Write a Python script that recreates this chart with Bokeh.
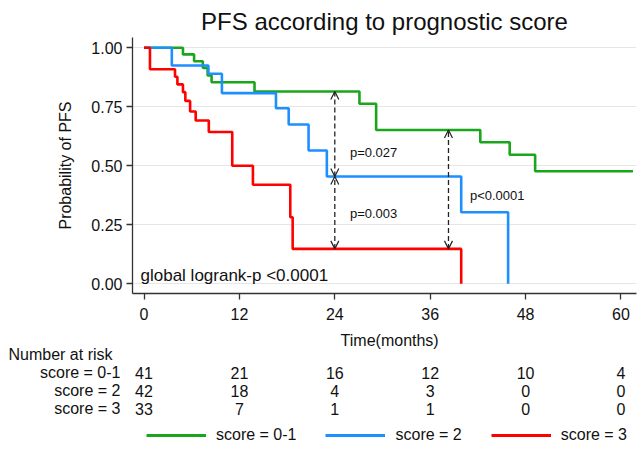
from bokeh.plotting import figure
from bokeh.layouts import column
from bokeh.models import (Range1d, FixedTicker, PrintfTickFormatter, Label, Legend,
                          LegendItem, Arrow, OpenHead)
from bokeh.core.properties import value
from bokeh.embed import file_html
from bokeh.resources import INLINE

FONT = "Liberation Sans"
INK = "#111111"

title_text = "PFS according to prognostic score"
x_label = "Time(months)"
y_label = "Probability of PFS"
groups = ["score = 0-1", "score = 2", "score = 3"]
colors = ["#1aa61a", "#1e8fff", "#ff0000"]

# Kaplan-Meier step curves (time in months, survival probability)
green_t = [0, 4.9, 6.3, 7.4, 8.0, 8.5, 13.9, 27.1, 29.2, 42.3, 46.0, 49.2, 61.5]
green_s = [1.0, 0.972, 0.943, 0.915, 0.883, 0.854, 0.815, 0.763, 0.652, 0.600, 0.547, 0.477, 0.477]
blue_t = [0, 3.5, 8.1, 9.8, 16.6, 18.2, 20.7, 23.0, 39.9, 45.8]
blue_s = [1.0, 0.925, 0.890, 0.808, 0.744, 0.675, 0.565, 0.455, 0.303, 0.0]
red_t = [0, 0.75, 3.9, 4.2, 4.9, 5.2, 5.8, 6.5, 8.15, 11.1, 13.7, 18.4, 18.7, 39.9]
red_s = [1.0, 0.909, 0.877, 0.845, 0.812, 0.775, 0.730, 0.692, 0.643, 0.500, 0.420, 0.282, 0.148, 0.0]

x_ticks = [0, 12, 24, 36, 48, 60]
y_ticks = [0.0, 0.25, 0.5, 0.75, 1.0]

risk_title = "Number at risk"
risk_0_1 = [41, 21, 16, 12, 10, 4]
risk_2 = [42, 18, 4, 3, 0, 0]
risk_3 = [33, 7, 1, 1, 0, 0]

# pairwise comparisons (arrow at a time point, between two curves)
cmp_x = [24, 24, 38.3]
cmp_top = [0.815, 0.455, 0.652]
cmp_bot = [0.455, 0.148, 0.148]
cmp_text = ["p=0.027", "p=0.003", "p<0.0001"]
cmp_text_x = [25.9, 25.9, 41.0]
cmp_text_y = [0.556, 0.298, 0.374]
global_text = "global logrank-p <0.0001"

# ---------------- main plot ----------------
X0, XS = -1.447, 61.95
p = figure(width=639, height=330, x_range=Range1d(X0, XS),
           y_range=Range1d(-0.041, 1.0436), output_backend="svg",
           toolbar_location=None, min_border_left=132, min_border_right=3,
           min_border_top=37, min_border_bottom=37)
p.frame_align = False
p.outline_line_color = None
p.xgrid.visible = False
p.ygrid.grid_line_color = "#e6e6e6"
p.ygrid.grid_line_width = 1.2

p.title.text = title_text
p.title.align = "center"
p.title.text_font = FONT
p.title.text_font_size = "24px"
p.title.text_font_style = "normal"
p.title.text_color = INK
p.title.standoff = 6

p.xaxis.ticker = FixedTicker(ticks=x_ticks)
p.yaxis.ticker = FixedTicker(ticks=y_ticks)
p.yaxis.formatter = PrintfTickFormatter(format="%.2f")
p.yaxis.axis_label = y_label
for ax in (p.xaxis[0], p.yaxis[0]):
    ax.axis_line_color = "#333333"
    ax.axis_line_width = 1.3
    ax.major_tick_line_color = "#333333"
    ax.major_tick_line_width = 1.3
    ax.major_tick_out = 6
    ax.major_tick_in = 0
    ax.minor_tick_line_color = None
    ax.major_label_text_font = FONT
    ax.major_label_text_font_size = "16px"
    ax.major_label_text_color = INK
    ax.axis_label_text_font = FONT
    ax.axis_label_text_font_size = "16px"
    ax.axis_label_text_font_style = "normal"
    ax.axis_label_text_color = INK
p.xaxis.major_label_standoff = 8
p.yaxis.major_label_standoff = 4
p.yaxis.axis_label_standoff = 14

renderers = []
for t, s, c in zip([green_t, blue_t, red_t], [green_s, blue_s, red_s], colors):
    renderers.append(p.step(t, s, mode="after", line_color=c, line_width=2.6))

for x, top, bot in zip(cmp_x, cmp_top, cmp_bot):
    p.add_layout(Arrow(start=OpenHead(size=8, line_width=1.2, line_color="#222222"),
                       end=OpenHead(size=8, line_width=1.2, line_color="#222222"),
                       x_start=x, y_start=bot, x_end=x, y_end=top,
                       line_dash="5 3", line_width=1.3, line_color="#222222"))

for txt, tx, ty in zip(cmp_text, cmp_text_x, cmp_text_y):
    p.add_layout(Label(x=tx, y=ty, text=txt, text_font=FONT, text_font_size="13px",
                       text_baseline="middle", text_align="left", text_color=INK))

p.add_layout(Label(x=-0.44, y=0.035, text=global_text, text_font=FONT,
                   text_font_size="17px", text_baseline="middle", text_align="left",
                   text_color=INK))

# ---------------- risk table + legend ----------------
T_H = 122
px_per_month = 7.95
t_start = -143.5 / px_per_month
t_end = (639 - 143.5) / px_per_month
q = figure(width=639, height=T_H, x_range=Range1d(t_start, t_end),
           y_range=Range1d(T_H, 0), output_backend="svg", toolbar_location=None,
           x_axis_location=None, y_axis_location=None,
           min_border_left=0, min_border_right=0, min_border_top=0, min_border_bottom=0)
q.frame_align = False
q.outline_line_color = None
q.grid.visible = False

q.add_layout(Label(x=30.9, y=10, text=x_label, text_font=FONT, text_font_size="16px",
                   text_align="center", text_baseline="middle", text_color=INK))
q.add_layout(Label(x=t_start + 8 / px_per_month, y=24, text=risk_title, text_font=FONT,
                   text_font_size="16px", text_align="left", text_baseline="middle",
                   text_color=INK))
row_y = [42, 60, 78]
for g, counts, ry in zip(groups, [risk_0_1, risk_2, risk_3], row_y):
    q.add_layout(Label(x=-2.96, y=ry, text=g, text_font=FONT, text_font_size="16px",
                       text_align="right", text_baseline="middle", text_color=INK))
    for xt, n in zip(x_ticks, counts):
        q.add_layout(Label(x=xt, y=ry, text=str(n), text_font=FONT, text_font_size="16px",
                           text_align="center", text_baseline="middle", text_color=INK))

nan = float("nan")
dummies = [q.line(x=[nan], y=[nan], line_color=c, line_width=2.8) for c in colors]
legend = Legend(items=[LegendItem(label=value(g), renderers=[r]) for g, r in zip(groups, dummies)],
                orientation="horizontal", location=(146, 8), glyph_width=60,
                glyph_height=14, label_height=14, label_standoff=10, spacing=29,
                padding=0, margin=0, border_line_color=None, background_fill_alpha=0,
                label_text_font=FONT, label_text_font_size="16px", label_text_color=INK)
q.add_layout(legend)

layout = column(p, q, spacing=0)
open("out.html", "w").write(file_html(layout, INLINE))
